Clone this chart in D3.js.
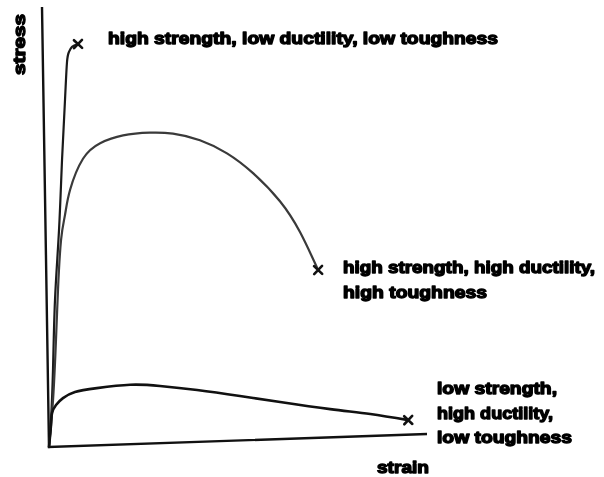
<!DOCTYPE html>
<html>
<head>
<meta charset="utf-8">
<script src="https://cdn.jsdelivr.net/npm/d3@7"></script>
<style>
  html, body { margin: 0; padding: 0; background: #fff; }
  svg { display: block; }
  text { font-family: "Liberation Sans", Arial, sans-serif; font-weight: bold; }
</style>
</head>
<body>
<script>
// Schematic stress–strain curves for three kinds of material (arbitrary units, 0–100)
const brittleStrain = [0, 0.64, 1.38, 2.2, 3.56, 4.65, 5.69, 6.38, 6.95, 7.77, 9.37];
const brittleStress = [0, 6.1, 17.5, 33.3, 49.2, 65.1, 78.7, 87.3, 89.6, 90.7, 91.3];

const toughStrain = [0, 1.26, 2.3, 3.04, 4.05, 5.21, 6.64, 10.2, 14.8, 20.9, 28.0, 34.1, 41.2, 48.3, 55.1, 62.1, 67.3, 71.9];
const toughStress = [0, 10.6, 24.3, 35.6, 46.9, 52.6, 58.2, 65.2, 68.6, 70.2, 70.6, 70.2, 68.5, 65.3, 60.6, 54.0, 46.8, 38.1];

const softStrain = [0, 0.62, 0.94, 2.03, 3.9, 7.1, 12.9, 21.7, 29.6, 39.4, 50.7, 61.3, 74.5, 85.1, 95.1];
const softStress = [0, 5.0, 7.7, 9.5, 11.0, 12.3, 13.0, 13.5, 13.0, 11.8, 10.1, 8.4, 6.4, 5.0, 3.3];

const curveLabels = [
  ["high strength, low ductility, low toughness"],
  ["high strength, high ductility,", "high toughness"],
  ["low strength,", "high ductility,", "low toughness"]
];
const axisTitles = ["strain", "stress"];

const W = 604, H = 477;
const svg = d3.select("body").append("svg").attr("width", W).attr("height", H);

// soft edge for the heavy lettering
svg.append("defs").append("filter").attr("id", "soft")
  .append("feGaussianBlur").attr("stdDeviation", 0.45);

// The drawing sits on a slightly skewed frame whose origin is the axis corner
const plot = svg.append("g")
  .attr("transform", "matrix(1,-0.0344,0.0159,1,49,447)");

const x = d3.scaleLinear().domain([0, 100]).range([0, 378]);
const y = d3.scaleLinear().domain([0, 100]).range([0, -440]);

// axes: two plain lines meeting at the origin
plot.append("path")
  .attr("d", d3.line()([[x(0), y(100)], [x(0), y(0)], [x(100), y(0)]]))
  .attr("fill", "none").attr("stroke", "#111").attr("stroke-width", 2.4)
  .attr("stroke-linejoin", "miter");

const line = d3.line()
  .x(d => x(d[0])).y(d => y(d[1]))
  .curve(d3.curveNatural);

const series = [
  { sx: brittleStrain, sy: brittleStress, color: "#1a1a1a", w: 2.2 },
  { sx: toughStrain, sy: toughStress, color: "#3a3a3a", w: 2.2 },
  { sx: softStrain, sy: softStress, color: "#111", w: 2.6 }
];

series.forEach(s => {
  const pts = s.sx.map((v, i) => [v, s.sy[i]]);
  plot.append("path")
    .attr("d", line(pts))
    .attr("fill", "none")
    .attr("stroke", s.color)
    .attr("stroke-width", s.w)
    .attr("stroke-linecap", "round");
  // fracture mark at the end of each curve
  const last = pts[pts.length - 1];
  const cx = x(last[0]), cy = y(last[1]), r = 4;
  plot.append("path")
    .attr("d", `M${cx - r},${cy - r}L${cx + r},${cy + r}M${cx - r},${cy + r}L${cx + r},${cy - r}`)
    .attr("stroke", "#111").attr("stroke-width", 2.6).attr("stroke-linecap", "round");
});

const textLayer = svg.append("g").attr("filter", "url(#soft)");
function heavyText(sel) {
  return sel.attr("font-size", 17)
    .attr("fill", "#000").attr("stroke", "#000").attr("stroke-width", 1.4)
    .attr("stroke-linejoin", "round")
    .attr("lengthAdjust", "spacingAndGlyphs");
}

// curve labels
const labelSpec = [
  { x: 108, y: 44, dy: 0, widths: [390] },
  { x: 343, y: 273, dy: 25, widths: [252, 144] },
  { x: 437, y: 394, dy: 24.5, widths: [120, 116, 135] }
];
curveLabels.forEach((lines, k) => {
  const spec = labelSpec[k];
  lines.forEach((t, i) => {
    textLayer.append("text")
      .attr("x", spec.x).attr("y", spec.y + i * spec.dy)
      .call(heavyText)
      .attr("textLength", spec.widths[i])
      .text(t);
  });
});

// axis titles
textLayer.append("text")
  .attr("x", 377).attr("y", 473)
  .call(heavyText)
  .attr("textLength", 52)
  .text(axisTitles[0]);

textLayer.append("text")
  .attr("transform", "translate(25,75) rotate(-90)")
  .call(heavyText)
  .attr("textLength", 61)
  .text(axisTitles[1]);
</script>
</body>
</html>
